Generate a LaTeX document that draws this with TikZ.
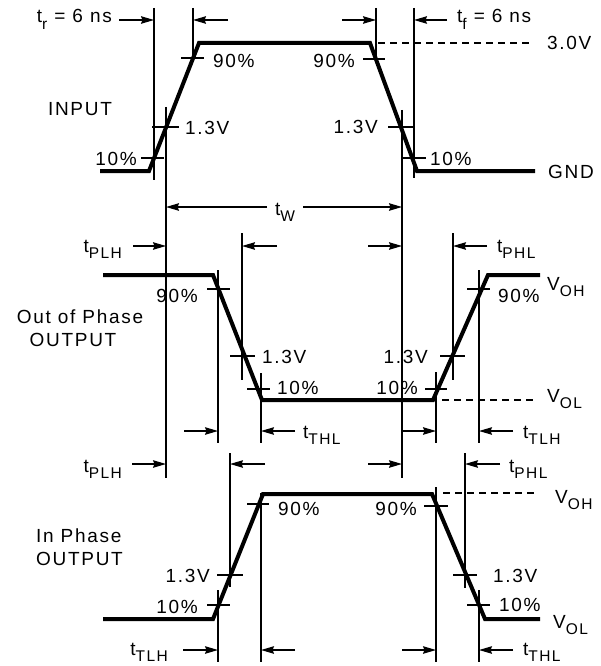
\documentclass[tikz,border=0pt]{standalone}
\usepackage{fontspec}
\setmainfont{Liberation Sans}[LetterSpace=9]
\usetikzlibrary{arrows.meta}
\newcommand\lowsub[1]{\raisebox{-6.5pt}{\fontsize{15.5}{15.5}\selectfont #1}}
\begin{document}
\begin{tikzpicture}[x=1pt,y=-1pt,
  lbl/.style={inner sep=0pt,font=\fontsize{19}{22}\selectfont},
  wave/.style={line width=4pt,line join=miter},
  guide/.style={line width=1.2pt},
  tick/.style={line width=1.2pt},
  dashline/.style={line width=1.2pt,dash pattern=on 7pt off 5pt},
  dim/.style={line width=1.3pt,-{Stealth[length=13pt,width=7.5pt,inset=1.5pt]}}]
\useasboundingbox (0,0) rectangle (600,666);

% ================= INPUT =================
\draw[wave] (100,171) -- (149,171) -- (199,43) -- (370,43) -- (417,171) -- (535,171);
\draw[dashline] (378,43) -- (530,43);
\node[lbl,anchor=base west] (v30) at (547,50) {3.0V};
\node[lbl,anchor=base west] (gnd) at (548,178) {GND};
\node[lbl,anchor=base] (inp) at (80,116) {INPUT};
% ticks
\draw[tick] (181,58) -- (204,58);
\draw[tick] (152,127) -- (179,127);
\draw[tick] (141,158) -- (164,158);
\draw[tick] (363,59) -- (385,59);
\draw[tick] (388,127) -- (413,127);
\draw[tick] (403,158) -- (426,158);
\node[lbl,anchor=base west] (i90a) at (213,68) {90\%};
\node[lbl,anchor=base west] (i13a) at (185,135) {1.3V};
\node[lbl,anchor=base east] (i10a) at (137,165) {10\%};
\node[lbl,anchor=base east] (i90b) at (355,68) {90\%};
\node[lbl,anchor=base east] (i13b) at (378,134) {1.3V};
\node[lbl,anchor=base west] (i10b) at (430,165) {10\%};
% guides
\draw[guide] (154,8) -- (154,180);
\draw[guide] (193,8) -- (193,62);
\draw[guide] (376,8) -- (376,62);
\draw[guide] (414,8) -- (414,178);
\draw[guide] (166,107) -- (166,478);
\draw[guide] (402,110) -- (402,478);
% tr / tf
\node[lbl,anchor=base east] (tr) at (112,23) {t\lowsub{r} = 6 ns};
\node[lbl,anchor=base west] (tf) at (457,23) {t\lowsub{f} = 6 ns};
\draw[dim] (119,20) -- (154,20);
\draw[dim] (228,20) -- (193,20);
\draw[dim] (342,20) -- (376,20);
\draw[dim] (447,20) -- (414,20);
% tw
\node[lbl,anchor=base west] (tw) at (275,215) {t\lowsub{W}};
\draw[dim] (267,207) -- (166,207);
\draw[dim] (303,207) -- (402,207);

% ================= OUT OF PHASE =================
\draw[wave] (103,275) -- (213,275) -- (262,400) -- (433,400) -- (488,275) -- (540,275);
\draw[dashline] (442,400) -- (535,400);
\node[lbl,anchor=base west] (voh1) at (547,290) {V\lowsub{OH}};
\node[lbl,anchor=base west] (vol1) at (547,402) {V\lowsub{OL}};
\node[lbl,anchor=base] (oop) at (80,323) {Out of Phase};
\node[lbl,anchor=base] (oopo) at (73,346) {OUTPUT};
\draw[tick] (207,289) -- (230,289);
\draw[tick] (230,356) -- (255,356);
\draw[tick] (247,389) -- (270,389);
\draw[tick] (425,389) -- (447,389);
\draw[tick] (440,356) -- (465,356);
\draw[tick] (467,289) -- (490,289);
\node[lbl,anchor=base east] (o90a) at (198,302) {90\%};
\node[lbl,anchor=base west] (o13a) at (262,363) {1.3V};
\node[lbl,anchor=base west] (o10a) at (277,394) {10\%};
\node[lbl,anchor=base east] (o10b) at (418,394) {10\%};
\node[lbl,anchor=base east] (o13b) at (428,363) {1.3V};
\node[lbl,anchor=base west] (o90b) at (498,302) {90\%};
\draw[guide] (218,270) -- (218,443);
\draw[guide] (242,233) -- (242,380);
\draw[guide] (261,373) -- (261,443);
\draw[guide] (436,372) -- (436,443);
\draw[guide] (453,233) -- (453,380);
\draw[guide] (479,270) -- (479,443);
\node[lbl,anchor=base east] (tplh1) at (122,252) {t\lowsub{PLH}};
\node[lbl,anchor=base west] (tphl1) at (497,252) {t\lowsub{PHL}};
\draw[dim] (133,246) -- (166,246);
\draw[dim] (277,246) -- (242,246);
\draw[dim] (368,246) -- (402,246);
\draw[dim] (487,246) -- (453,246);
\node[lbl,anchor=base west] (tthl1) at (303,438) {t\lowsub{THL}};
\node[lbl,anchor=base west] (ttlh1) at (523,438) {t\lowsub{TLH}};
\draw[dim] (184,431) -- (218,431);
\draw[dim] (295,431) -- (261,431);
\draw[dim] (402,431) -- (436,431);
\draw[dim] (513,431) -- (479,431);

% ================= IN PHASE =================
\draw[wave] (103,619) -- (213,619) -- (263,494) -- (432,494) -- (485,619) -- (540,619);
\draw[dashline] (443,493) -- (537,493);
\node[lbl,anchor=base west] (voh2) at (555,503) {V\lowsub{OH}};
\node[lbl,anchor=base west] (vol2) at (553,628) {V\lowsub{OL}};
\node[lbl,anchor=base west] (ip) at (36,542) {In Phase};
\node[lbl,anchor=base west] (ipo) at (36,565) {OUTPUT};
\draw[tick] (207,605) -- (230,605);
\draw[tick] (217,575) -- (243,575);
\draw[tick] (247,504) -- (269,504);
\draw[tick] (424,506) -- (448,506);
\draw[tick] (453,575) -- (477,575);
\draw[tick] (467,605) -- (490,605);
\node[lbl,anchor=base east] (p10a) at (198,613) {10\%};
\node[lbl,anchor=base east] (p13a) at (210,582) {1.3V};
\node[lbl,anchor=base west] (p90a) at (278,515) {90\%};
\node[lbl,anchor=base east] (p90b) at (417,515) {90\%};
\node[lbl,anchor=base west] (p13b) at (493,582) {1.3V};
\node[lbl,anchor=base west] (p10b) at (499,611) {10\%};
\draw[guide] (230,453) -- (230,587);
\draw[guide] (218,590) -- (218,662);
\draw[guide] (261,493) -- (261,662);
\draw[guide] (436,487) -- (436,662);
\draw[guide] (465,453) -- (465,588);
\draw[guide] (479,590) -- (479,662);
\node[lbl,anchor=base east] (tplh2) at (122,472) {t\lowsub{PLH}};
\node[lbl,anchor=base west] (tphl2) at (509,472) {t\lowsub{PHL}};
\draw[dim] (132,464) -- (166,464);
\draw[dim] (265,464) -- (230,464);
\draw[dim] (368,464) -- (402,464);
\draw[dim] (500,464) -- (465,464);
\node[lbl,anchor=base east] (ttlh2) at (168,655) {t\lowsub{TLH}};
\node[lbl,anchor=base west] (tthl2) at (523,655) {t\lowsub{THL}};
\draw[dim] (183,650) -- (218,650);
\draw[dim] (295,650) -- (261,650);
\draw[dim] (402,650) -- (436,650);
\draw[dim] (513,650) -- (479,650);
\end{tikzpicture}
\end{document}
